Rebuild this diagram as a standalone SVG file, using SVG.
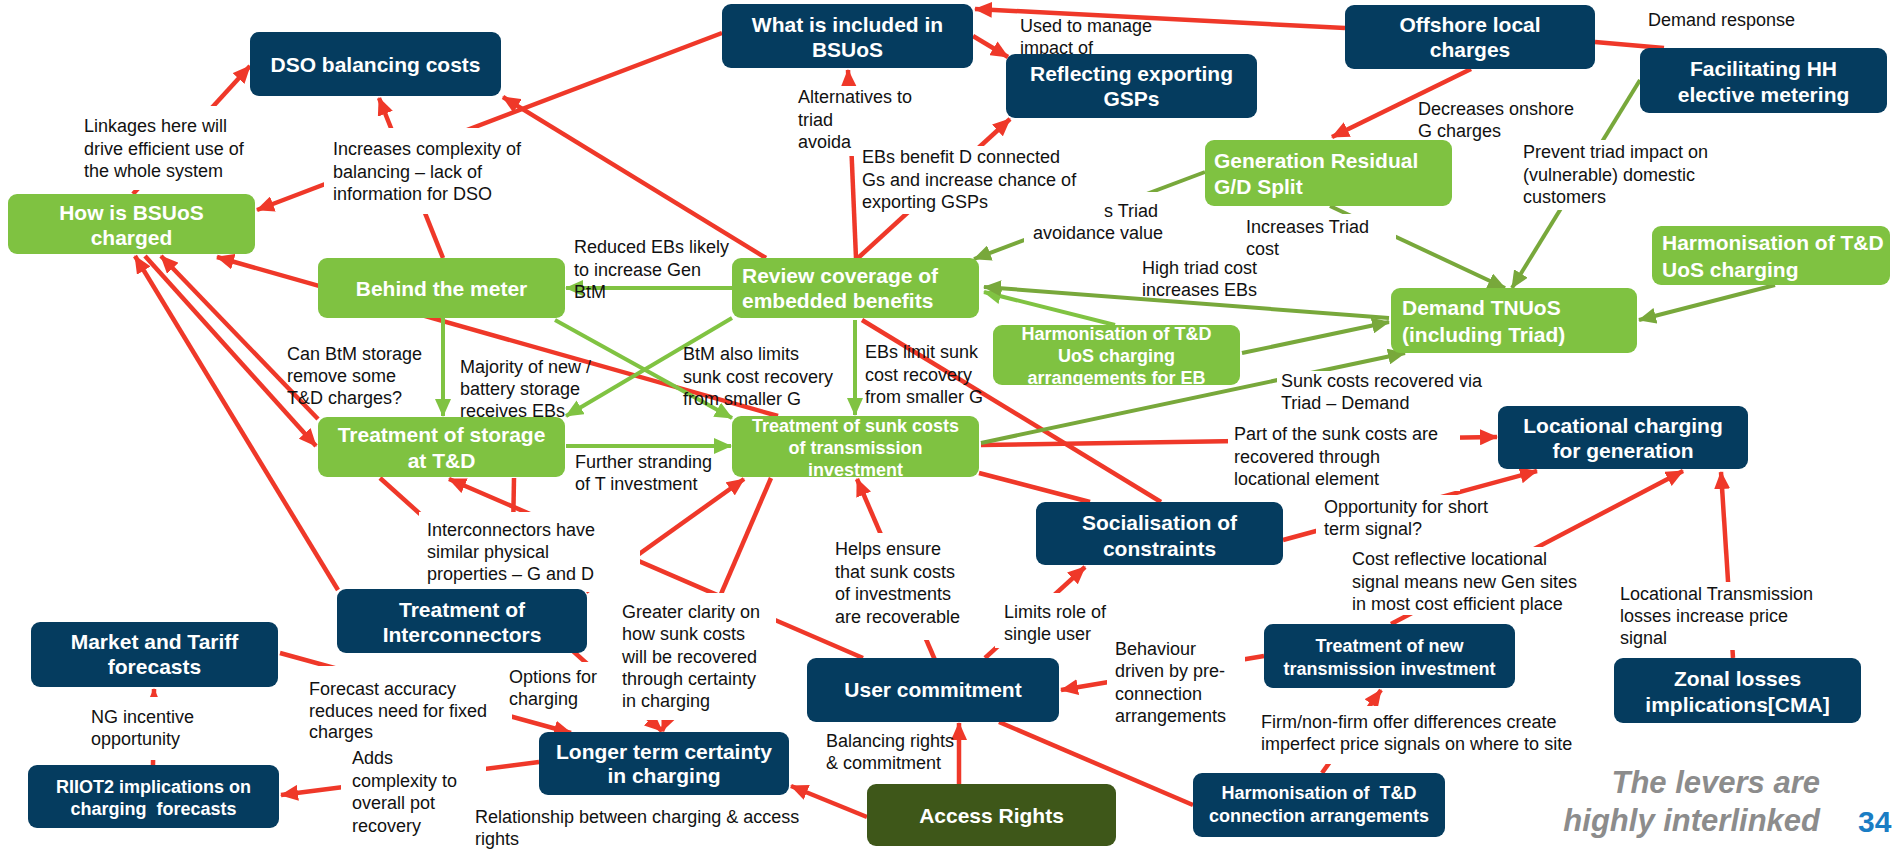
<svg xmlns="http://www.w3.org/2000/svg" width="1893" height="849" viewBox="0 0 1893 849">
<defs>
<style>
.lbl{font-family:"Liberation Sans",Arial,sans-serif;font-size:18px;fill:#111}
.bg{fill:#fff}
.nt{font-family:"Liberation Sans",Arial,sans-serif;font-weight:bold;font-size:21px;fill:#fff;text-anchor:middle}
.nt.l{text-anchor:start}
.nt.s{font-size:18px}
.navy{fill:#053c5f}
.grn{fill:#7fc241}
.olv{fill:#3e5719}
.r{stroke:#ef3829;stroke-width:4.5;fill:none}
.g{stroke:#80c342;stroke-width:4;fill:none}
.o{stroke:#78a83b;stroke-width:4;fill:none}
.ttl{font-family:"Liberation Sans",Arial,sans-serif;font-weight:bold;font-style:italic;font-size:31px;fill:#8c8c8c;text-anchor:end}
.pg{font-family:"Liberation Sans",Arial,sans-serif;font-weight:bold;font-size:30px;fill:#1a7dc4}
</style>
<marker id="ar" markerWidth="18" markerHeight="16" refX="17" refY="8" orient="auto" markerUnits="userSpaceOnUse"><path d="M0,0 L18,8 L0,16 Z" fill="#ef3829"/></marker>
<marker id="ag" markerWidth="18" markerHeight="16" refX="17" refY="8" orient="auto" markerUnits="userSpaceOnUse"><path d="M0,0 L18,8 L0,16 Z" fill="#80c342"/></marker>
<marker id="ao" markerWidth="18" markerHeight="16" refX="17" refY="8" orient="auto" markerUnits="userSpaceOnUse"><path d="M0,0 L18,8 L0,16 Z" fill="#78a83b"/></marker>
</defs>
<rect width="1893" height="849" fill="#fff"/>

<!-- connectors -->
<g id="connectors">
<g class="r" marker-end="url(#ar)">
<path d="M1345,28 L975,9"/>
<path d="M1471,69 L1332,137"/>
<path d="M973,36 L1008,57"/>
<path d="M722,33 L257,210"/>
<path d="M856,258 L848,70"/>
<path d="M858,258 L1010,119"/>
<path d="M766,258 L503,97"/>
<path d="M443,258 L379,98"/>
<path d="M133,194 L250,66"/>
<path d="M778,416 L217,257"/>
<path d="M318,419 L161,256"/>
<path d="M338,590 L135,256"/>
<path d="M145,256 L316,446"/>
<path d="M380,478 L662,731"/>
<path d="M863,658 L449,479"/>
<path d="M771,478 L662,731"/>
<path d="M586,592 L744,479"/>
<path d="M935,660 L857,479"/>
<path d="M981,445 L1497,437"/>
<path d="M1283,540 L1537,471"/>
<path d="M1391,624 L1683,471"/>
<path d="M1733,658 L1721,472"/>
<path d="M985,658 L1085,567"/>
<path d="M1264,656 L1061,690"/>
<path d="M1322,773 L1381,690"/>
<path d="M959,784 L959,723"/>
<path d="M867,817 L791,786"/>
<path d="M539,762 L281,795"/>
<path d="M280,653 L571,733"/>
<path d="M153,765 L154,689"/>
</g>
<g class="r">
<path d="M1595,42 L1664,48"/>
<path d="M512,590 L514,478"/>
<path d="M862,320 L1161,502"/>
<path d="M979,473 L1090,502"/>
<path d="M999,722 L1193,805"/>
</g>
<g class="g" marker-end="url(#ag)">
<path d="M1115,325 L984,292"/>
<path d="M732,288 L566,288"/>
<path d="M443,318 L443,416"/>
<path d="M732,318 L566,416"/>
<path d="M555,320 L732,418"/>
<path d="M855,320 L855,415"/>
<path d="M566,446 L731,446"/>
</g>
<g class="o" marker-end="url(#ao)">
<path d="M981,443 L1405,353"/>
<path d="M1242,353 L1389,322"/>
<path d="M1389,318 L984,287"/>
<path d="M1205,172 L974,259"/>
<path d="M1330,206 L1505,288"/>
<path d="M1640,80 L1512,288"/>
<path d="M1775,285 L1639,320"/>
</g>
</g>

<!-- connector labels -->
<g id="labels" class="lbl">
<rect class="bg" x="82" y="106" width="170" height="84"/>
<text x="84" y="132"><tspan x="84">Linkages here will</tspan><tspan x="84" dy="22.5">drive efficient use of</tspan><tspan x="84" dy="22.5">the whole system</tspan></text>
<rect class="bg" x="324" y="128" width="208" height="86"/>
<text x="333" y="155"><tspan x="333">Increases complexity of</tspan><tspan x="333" dy="22.5">balancing – lack of</tspan><tspan x="333" dy="22.5">information for DSO</tspan></text>
<rect class="bg" x="796" y="86" width="122" height="70"/>
<text x="798" y="103"><tspan x="798">Alternatives to</tspan><tspan x="798" dy="22.5">triad</tspan><tspan x="798" dy="22.5">avoida</tspan></text>
<rect class="bg" x="859" y="146" width="228" height="68"/>
<text x="862" y="163"><tspan x="862">EBs benefit D connected</tspan><tspan x="862" dy="22.5">Gs and increase chance of</tspan><tspan x="862" dy="22.5">exporting GSPs</tspan></text>
<text x="1020" y="32"><tspan x="1020">Used to manage</tspan><tspan x="1020" dy="21.5">impact of</tspan></text>
<rect class="bg" x="1024" y="192" width="144" height="52"/>
<text x="1104" y="217">s Triad</text>
<text x="1033" y="239">avoidance value</text>
<text x="1418" y="115"><tspan x="1418">Decreases onshore</tspan><tspan x="1418" dy="22">G charges</tspan></text>
<text x="1648" y="26">Demand response</text>
<rect class="bg" x="1519" y="140" width="198" height="70"/>
<text x="1523" y="158"><tspan x="1523">Prevent triad impact on</tspan><tspan x="1523" dy="22.5">(vulnerable) domestic</tspan><tspan x="1523" dy="22.5">customers</tspan></text>
<rect class="bg" x="1242" y="214" width="154" height="46"/>
<text x="1246" y="233"><tspan x="1246">Increases Triad</tspan><tspan x="1246" dy="21.5">cost</tspan></text>
<text x="1142" y="274"><tspan x="1142">High triad cost</tspan><tspan x="1142" dy="22">increases EBs</tspan></text>
<text x="574" y="253"><tspan x="574">Reduced EBs likely</tspan><tspan x="574" dy="22.5">to increase Gen</tspan><tspan x="574" dy="22.5">BtM</tspan></text>
<text x="287" y="360"><tspan x="287">Can BtM storage</tspan><tspan x="287" dy="22">remove some</tspan><tspan x="287" dy="22">T&amp;D charges?</tspan></text>
<text x="460" y="373"><tspan x="460">Majority of new /</tspan><tspan x="460" dy="22">battery storage</tspan><tspan x="460" dy="22">receives EBs</tspan></text>
<text x="683" y="360"><tspan x="683">BtM also limits</tspan><tspan x="683" dy="22.5">sunk cost recovery</tspan><tspan x="683" dy="22.5">from smaller G</tspan></text>
<text x="865" y="358"><tspan x="865">EBs limit sunk</tspan><tspan x="865" dy="22.5">cost recovery</tspan><tspan x="865" dy="22.5">from smaller G</tspan></text>
<text x="575" y="468"><tspan x="575">Further stranding</tspan><tspan x="575" dy="22">of T investment</tspan></text>
<rect class="bg" x="1277" y="371" width="214" height="42"/>
<text x="1281" y="387"><tspan x="1281">Sunk costs recovered via</tspan><tspan x="1281" dy="21.5">Triad – Demand</tspan></text>
<rect class="bg" x="1228" y="423" width="232" height="68"/>
<text x="1234" y="440"><tspan x="1234">Part of the sunk costs are</tspan><tspan x="1234" dy="22.5">recovered through</tspan><tspan x="1234" dy="22.5">locational element</tspan></text>
<rect class="bg" x="1316" y="495" width="180" height="46"/>
<text x="1324" y="513"><tspan x="1324">Opportunity for short</tspan><tspan x="1324" dy="22">term signal?</tspan></text>
<rect class="bg" x="1349" y="547" width="238" height="68"/>
<text x="1352" y="565"><tspan x="1352">Cost reflective locational</tspan><tspan x="1352" dy="22.5">signal means new Gen sites</tspan><tspan x="1352" dy="22.5">in most cost efficient place</tspan></text>
<rect class="bg" x="1617" y="582" width="206" height="68"/>
<text x="1620" y="600"><tspan x="1620">Locational Transmission</tspan><tspan x="1620" dy="22">losses increase price</tspan><tspan x="1620" dy="22">signal</tspan></text>
<rect class="bg" x="419" y="512" width="221" height="80"/>
<text x="427" y="536"><tspan x="427">Interconnectors have</tspan><tspan x="427" dy="22">similar physical</tspan><tspan x="427" dy="22">properties – G and D</tspan></text>
<rect class="bg" x="832" y="533" width="134" height="107"/>
<text x="835" y="555"><tspan x="835">Helps ensure</tspan><tspan x="835" dy="22.5">that sunk costs</tspan><tspan x="835" dy="22.5">of investments</tspan><tspan x="835" dy="22.5">are recoverable</tspan></text>
<rect class="bg" x="616" y="593" width="160" height="127"/>
<text x="622" y="618"><tspan x="622">Greater clarity on</tspan><tspan x="622" dy="22.3">how sunk costs</tspan><tspan x="622" dy="22.3">will be recovered</tspan><tspan x="622" dy="22.3">through certainty</tspan><tspan x="622" dy="22.3">in charging</tspan></text>
<rect class="bg" x="995" y="593" width="117" height="55"/>
<text x="1004" y="618"><tspan x="1004">Limits role of</tspan><tspan x="1004" dy="22">single user</tspan></text>
<rect class="bg" x="1107" y="638" width="138" height="90"/>
<text x="1115" y="655"><tspan x="1115">Behaviour</tspan><tspan x="1115" dy="22.3">driven by pre-</tspan><tspan x="1115" dy="22.3">connection</tspan><tspan x="1115" dy="22.3">arrangements</tspan></text>
<text x="826" y="747"><tspan x="826">Balancing rights</tspan><tspan x="826" dy="21.5">&amp; commitment</tspan></text>
<rect class="bg" x="1259" y="706" width="328" height="58"/>
<text x="1261" y="728"><tspan x="1261">Firm/non-firm offer differences create</tspan><tspan x="1261" dy="22">imperfect price signals on where to site</tspan></text>
<rect class="bg" x="341" y="748" width="145" height="52"/>
<rect class="bg" x="341" y="800" width="102" height="38"/>
<text x="352" y="764"><tspan x="352">Adds</tspan><tspan x="352" dy="22.7">complexity to</tspan><tspan x="352" dy="22.7">overall pot</tspan><tspan x="352" dy="22.7">recovery</tspan></text>
<text x="475" y="823"><tspan x="475">Relationship between charging &amp; access</tspan><tspan x="475" dy="22">rights</tspan></text>
<rect class="bg" x="307" y="666" width="205" height="78"/>
<text x="309" y="695"><tspan x="309">Forecast accuracy</tspan><tspan x="309" dy="21.5">reduces need for fixed</tspan><tspan x="309" dy="21.5">charges</tspan></text>
<rect class="bg" x="505" y="662" width="112" height="50"/>
<text x="509" y="683"><tspan x="509">Options for</tspan><tspan x="509" dy="22">charging</tspan></text>
<rect class="bg" x="88" y="697" width="112" height="63"/>
<text x="91" y="723"><tspan x="91">NG incentive</tspan><tspan x="91" dy="22">opportunity</tspan></text>
</g>

<!-- nodes -->
<g id="n-dso"><rect class="navy" x="250" y="32" width="251" height="64" rx="9"/><text class="nt" x="375.5" y="72">DSO balancing costs</text></g>
<g id="n-bsuos-charged"><rect class="grn" x="8" y="194" width="247" height="60" rx="9"/><text class="nt" x="131.5" y="220">How is BSUoS</text><text class="nt" x="131.5" y="245">charged</text></g>
<g id="n-bsuos-included"><rect class="navy" x="722" y="4" width="251" height="64" rx="9"/><text class="nt" x="847.5" y="32">What is included in</text><text class="nt" x="847.5" y="57">BSUoS</text></g>
<g id="n-exporting-gsps"><rect class="navy" x="1006" y="54" width="251" height="64" rx="9"/><text class="nt" x="1131.5" y="81">Reflecting exporting</text><text class="nt" x="1131.5" y="106">GSPs</text></g>
<g id="n-offshore"><rect class="navy" x="1345" y="5" width="250" height="64" rx="9"/><text class="nt" x="1470" y="32">Offshore local</text><text class="nt" x="1470" y="57">charges</text></g>
<g id="n-hh-metering"><rect class="navy" x="1640" y="48" width="247" height="65" rx="9"/><text class="nt" x="1763.5" y="76">Facilitating HH</text><text class="nt" x="1763.5" y="102">elective metering</text></g>
<g id="n-gen-residual"><rect class="grn" x="1205" y="140" width="247" height="66" rx="9"/><text class="nt l" x="1214" y="168">Generation Residual</text><text class="nt l" x="1214" y="194">G/D Split</text></g>
<g id="n-harm-uos"><rect class="grn" x="1652" y="226" width="238" height="59" rx="9"/><text class="nt l" x="1662" y="250">Harmonisation of T&amp;D</text><text class="nt l" x="1662" y="277">UoS charging</text></g>
<g id="n-demand-tnuos"><rect class="grn" x="1391" y="288" width="246" height="65" rx="9"/><text class="nt l" x="1402" y="315">Demand TNUoS</text><text class="nt l" x="1402" y="342">(including Triad)</text></g>
<g id="n-embedded-benefits"><rect class="grn" x="732" y="258" width="247" height="60" rx="9"/><text class="nt l" x="742" y="283">Review coverage of</text><text class="nt l" x="742" y="308">embedded benefits</text></g>
<g id="n-harm-eb"><rect class="grn" x="993" y="325" width="247" height="60" rx="9"/><text class="nt s" x="1116.5" y="340">Harmonisation of T&amp;D</text><text class="nt s" x="1116.5" y="362">UoS charging</text><text class="nt s" x="1116.5" y="384">arrangements for EB</text></g>
<g id="n-btm"><rect class="grn" x="318" y="258" width="247" height="60" rx="9"/><text class="nt" x="441.5" y="296">Behind the meter</text></g>
<g id="n-storage"><rect class="grn" x="318" y="417" width="247" height="60" rx="9"/><text class="nt" x="441.5" y="442">Treatment of storage</text><text class="nt" x="441.5" y="468">at T&amp;D</text></g>
<g id="n-sunk-costs"><rect class="grn" x="732" y="416" width="247" height="61" rx="9"/><text class="nt s" x="855.5" y="432">Treatment of sunk costs</text><text class="nt s" x="855.5" y="454">of transmission</text><text class="nt s" x="855.5" y="476">investment</text></g>
<g id="n-socialisation"><rect class="navy" x="1036" y="502" width="247" height="63" rx="9"/><text class="nt" x="1159.5" y="530">Socialisation of</text><text class="nt" x="1159.5" y="556">constraints</text></g>
<g id="n-locational"><rect class="navy" x="1498" y="406" width="250" height="63" rx="9"/><text class="nt" x="1623" y="433">Locational charging</text><text class="nt" x="1623" y="458">for generation</text></g>
<g id="n-interconnectors"><rect class="navy" x="337" y="589" width="250" height="64" rx="9"/><text class="nt" x="462" y="617">Treatment of</text><text class="nt" x="462" y="642">Interconnectors</text></g>
<g id="n-market-forecasts"><rect class="navy" x="31" y="622" width="247" height="65" rx="9"/><text class="nt" x="154.5" y="649">Market and Tariff</text><text class="nt" x="154.5" y="674">forecasts</text></g>
<g id="n-riiot2"><rect class="navy" x="28" y="765" width="251" height="63" rx="9"/><text class="nt s" x="153.5" y="793">RIIOT2 implications on</text><text class="nt s" x="153.5" y="815" style="white-space:pre">charging  forecasts</text></g>
<g id="n-longer-term"><rect class="navy" x="539" y="732" width="250" height="63" rx="9"/><text class="nt" x="664" y="759">Longer term certainty</text><text class="nt" x="664" y="783">in charging</text></g>
<g id="n-user-commitment"><rect class="navy" x="807" y="658" width="252" height="64" rx="9"/><text class="nt" x="933" y="697">User commitment</text></g>
<g id="n-access-rights"><rect class="olv" x="867" y="784" width="249" height="62" rx="9"/><text class="nt" x="991.5" y="823">Access Rights</text></g>
<g id="n-new-transmission"><rect class="navy" x="1264" y="624" width="251" height="64" rx="9"/><text class="nt s" x="1389.5" y="652">Treatment of new</text><text class="nt s" x="1389.5" y="675">transmission investment</text></g>
<g id="n-harm-connection"><rect class="navy" x="1193" y="773" width="252" height="64" rx="9"/><text class="nt s" x="1319" y="799" style="white-space:pre">Harmonisation of  T&amp;D</text><text class="nt s" x="1319" y="822">connection arrangements</text></g>
<g id="n-zonal-losses"><rect class="navy" x="1614" y="658" width="247" height="65" rx="9"/><text class="nt" x="1737.5" y="686">Zonal losses</text><text class="nt" x="1737.5" y="712">implications[CMA]</text></g>

<!-- footer -->
<g id="footer">
<text class="ttl" x="1820" y="793">The levers are</text>
<text class="ttl" x="1820" y="831">highly interlinked</text>
<text class="pg" x="1858" y="832">34</text>
</g>
</svg>
